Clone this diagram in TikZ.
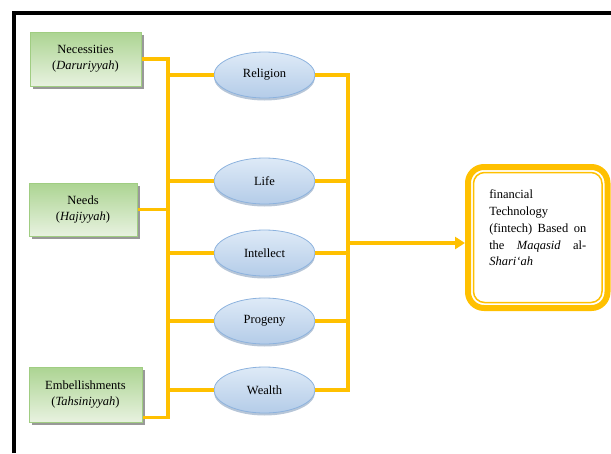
\documentclass[tikz,border=0pt]{standalone}
\usepackage{fontspec}
\setmainfont{Liberation Serif}
\usetikzlibrary{shapes.geometric,arrows.meta,shadows}
\definecolor{gold}{RGB}{255,192,0}
\definecolor{gdark}{RGB}{172,212,146}
\definecolor{glight}{RGB}{232,242,224}
\definecolor{gborder}{RGB}{160,205,130}
\definecolor{blight}{RGB}{222,234,247}
\definecolor{bdark}{RGB}{180,204,232}
\definecolor{bborder}{RGB}{140,178,222}

\begin{document}
\begin{tikzpicture}[x=1pt,y=-1pt,
    every node/.style={font=\fontsize{12.5}{16}\selectfont},
    level/.style={rectangle, draw=gborder, line width=1pt, top color=gdark, bottom color=glight,
      align=center, drop shadow={shadow xshift=3pt, shadow yshift=-3pt, fill=black!40, opacity=1}},
    goal/.style={ellipse, draw=bborder, line width=0.8pt, top color=blight, bottom color=bdark,
      minimum width=101pt, minimum height=46pt, inner sep=0pt,
      drop shadow={shadow xshift=0pt, shadow yshift=-2.5pt, fill=bborder!80!black, opacity=0.5}},
    link/.style={draw=gold, line width=3.3pt},
    result/.style={draw=gold, line width=6pt, rounded corners=16pt, minimum width=139.5pt, minimum height=141pt}]
  \useasboundingbox (0,0) rectangle (611,453);
  % frame
  \draw[line width=4pt] (13.5,453) -- (13.5,13) -- (611,13);
  % levels of needs
  \node[level, minimum width=111pt, minimum height=54pt] (nec) at (85.5,59) {Necessities\\(\textit{Daruriyyah})};
  \node[level, minimum width=108pt, minimum height=53pt] (need) at (83,209.5) {Needs\\(\textit{Hajiyyah})};
  \node[level, minimum width=113pt, minimum height=55pt] (emb) at (85.5,394.5) {Embellishments\\(\textit{Tahsiniyyah})};
  % the five objectives
  \foreach \name/\y/\txt in {rel/75/Religion, life/181/Life, intel/253/Intellect, prog/321/Progeny, wealth/390/Wealth}{
    \node[goal] (\name) at (264.5,\y) {\txt};
  }
  % fintech box
  \node[result] (fin) at (537.75,237.5) {};
  \draw[gold, line width=1.5pt, rounded corners=11pt] ([shift={(8.5pt,-8.5pt)}]fin.north west) rectangle ([shift={(-8.5pt,8.5pt)}]fin.south east);
  \node[text width=97pt, align=left, font=\fontsize{12.5}{16.7}\selectfont] (fintxt) at (537.75,228)
    {financial\\ Technology\\ \makebox[97pt][l]{(fintech)\hfill Based\hfill on}\\ \makebox[97pt][l]{the\hfill\textit{Maqasid}\hfill al-}\\ \textit{Shari‘ah}};
  % buses
  \coordinate (lbus) at (168,0);
  \coordinate (rbus) at (348,0);
  \coordinate (arr) at (0,243);
  \coordinate (embout) at ([yshift=5pt]emb.south east);
  \draw[link] (nec.east) -- (nec.east -| lbus) -- (embout -| lbus) -- (embout);
  \draw[link] (need.east) -- (need.east -| lbus);
  \foreach \name in {rel,life,intel,prog,wealth}{
    \draw[link] (\name.west -| lbus) -- (\name.west);
  }
  \draw[link] (rel.east) -- (rel.east -| rbus) -- (wealth.east -| rbus) -- (wealth.east);
  \foreach \name in {life,intel,prog}{
    \draw[link] (\name.east) -- (\name.east -| rbus);
  }
  \draw[link, -{Triangle[length=10pt,width=12pt]}] (arr -| rbus) -- (arr -| fin.west);
\end{tikzpicture}
\end{document}
